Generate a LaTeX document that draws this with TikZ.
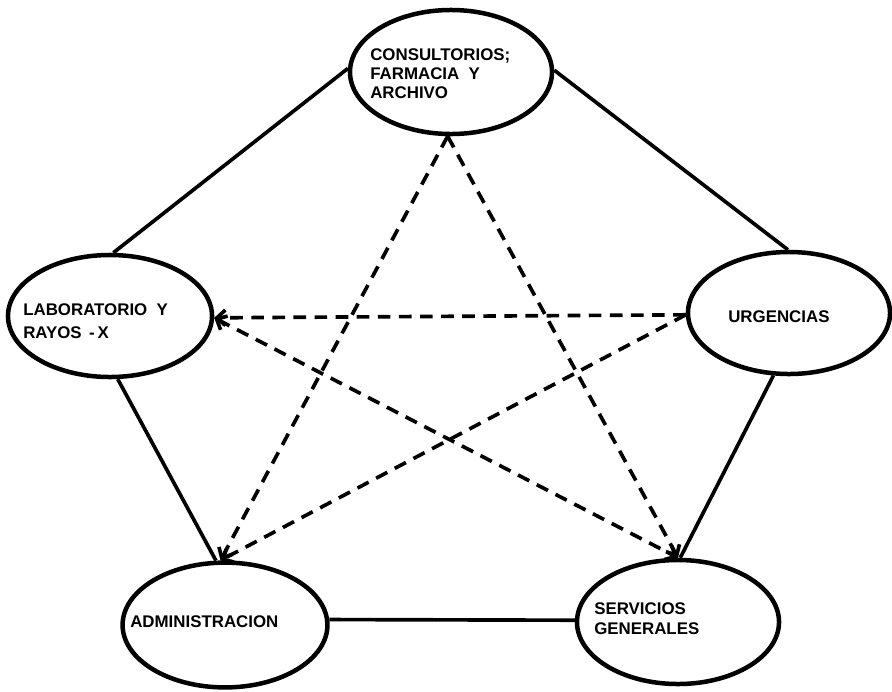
\documentclass[tikz,border=0pt]{standalone}
\usepackage{fontspec}
\setmainfont{Liberation Sans}
\usetikzlibrary{shapes.geometric,arrows.meta}
\begin{document}
\begin{tikzpicture}[x=0.025cm,y=-0.025cm,
  box/.style={ellipse,draw,line width=3.2pt,inner sep=0pt},
  lbl/.style={anchor=west,font=\bfseries\fontsize{12}{13.5}\selectfont,align=left,inner sep=0pt},
  link/.style={line width=2.6pt},
  dashlink/.style={line width=2.6pt,dash pattern=on 9pt off 6pt},
  tip/.style={-{Straight Barb[length=6pt,width=11pt]}},
  tips/.style={{Straight Barb[length=6pt,width=11pt]}-{Straight Barb[length=6pt,width=11pt]}}
]
\useasboundingbox (0,0) rectangle (892,691);

\node[box,minimum width=5.05cm,minimum height=3.1cm] (top) at (451,72) {};
\node[box,minimum width=5.1cm,minimum height=3.05cm] (lab) at (110,316) {};
\node[box,minimum width=5.05cm,minimum height=3.05cm] (urg) at (789,313) {};
\node[box,minimum width=5.12cm,minimum height=3.12cm] (adm) at (225,625) {};
\node[box,minimum width=5.05cm,minimum height=3.1cm] (serv) at (678,622) {};

\node[lbl] (toptext) at (370,74) {CONSULTORIOS;\\FARMACIA\ \ Y\\ARCHIVO};
\node[lbl,font=\bfseries\fontsize{12}{16}\selectfont] (labtext) at (23,321) {LABORATORIO\ \ Y\\RAYOS \,-\,X};
\node[lbl] (urgtext) at (728,317) {URGENCIAS};
\node[lbl] (admtext) at (130,622) {ADMINISTRACION};
\node[lbl,font=\bfseries\fontsize{12}{14}\selectfont] (servtext) at (594,619) {SERVICIOS\\GENERALES};

% solid connectors
\draw[link] (top.178) -- (lab.87);
\draw[link] (top.1) -- (urg.91);
\draw[link] (lab.277) -- (adm.98);
\draw[link] (urg.256) -- (serv.88);
\draw[link] (adm.3) -- (serv.179);

% dashed connectors
\draw[dashlink,tip] (top.267) -- (adm.94);
\draw[dashlink,tip] (top.267) -- (serv.90);
\draw[dashlink,tip] (urg.181) -- (lab.359);
\draw[dashlink,tips] (lab.359) -- (serv.90);
\draw[dashlink,tip] (urg.181) -- (adm.94);
\end{tikzpicture}
\end{document}
